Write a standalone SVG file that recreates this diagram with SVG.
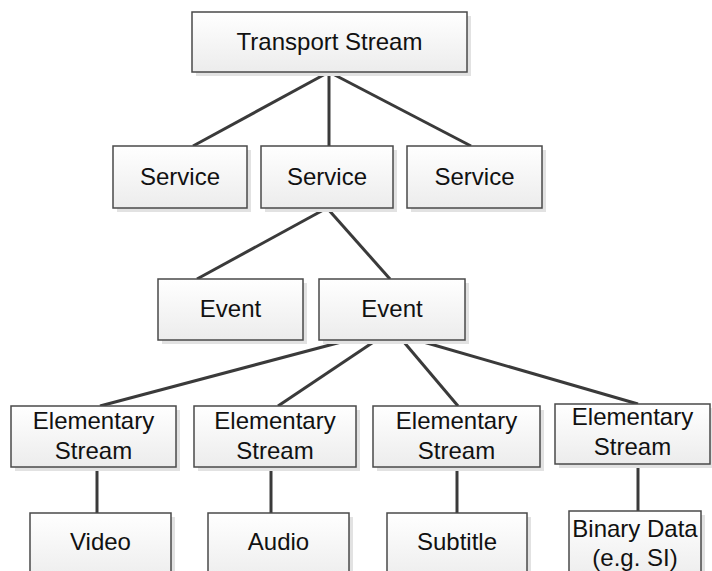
<svg xmlns="http://www.w3.org/2000/svg" width="712" height="571" viewBox="0 0 712 571">
<defs>
<linearGradient id="g" x1="0" y1="0" x2="0" y2="1">
<stop offset="0" stop-color="#ffffff"/>
<stop offset="1" stop-color="#ececec"/>
</linearGradient>
<style>
.sh{fill:#e2e2e2;stroke:none}
.bx{fill:url(#g);stroke:#4a4a4a;stroke-width:1.5}
.t{font-family:"Liberation Sans",Arial,sans-serif;font-size:24px;fill:#111;text-anchor:middle}
.c line{stroke:#3a3a3a;stroke-width:3;stroke-linecap:butt}
</style>
</defs>
<rect width="712" height="571" fill="#fff"/>
<g class="c" id="connectors">
<line x1="329" y1="72" x2="193" y2="146"/>
<line x1="329" y1="72" x2="329" y2="146"/>
<line x1="329" y1="72" x2="471" y2="146"/>
<line x1="327" y1="208" x2="197" y2="279"/>
<line x1="327" y1="208" x2="390" y2="279"/>
<line x1="345" y1="341" x2="100" y2="406"/>
<line x1="375" y1="341" x2="278" y2="406"/>
<line x1="403" y1="341" x2="458" y2="406"/>
<line x1="420" y1="341" x2="638" y2="404"/>
<line x1="97" y1="467" x2="97" y2="513"/>
<line x1="271" y1="467" x2="271" y2="513"/>
<line x1="457" y1="467" x2="457" y2="513"/>
<line x1="638" y1="464" x2="638" y2="511"/>
</g>
<g id="ts"><rect class="sh" x="196" y="16" width="275" height="60"/><rect class="bx" x="192" y="12" width="275" height="60"/><text class="t" x="329.5" y="50">Transport Stream</text></g>
<g id="s1"><rect class="sh" x="117" y="150" width="134" height="62"/><rect class="bx" x="113" y="146" width="134" height="62"/><text class="t" x="180" y="185">Service</text></g>
<g id="s2"><rect class="sh" x="265" y="150" width="132" height="62"/><rect class="bx" x="261" y="146" width="132" height="62"/><text class="t" x="327" y="185">Service</text></g>
<g id="s3"><rect class="sh" x="411" y="150" width="135" height="62"/><rect class="bx" x="407" y="146" width="135" height="62"/><text class="t" x="474.5" y="185">Service</text></g>
<g id="e1"><rect class="sh" x="162" y="283" width="145" height="61"/><rect class="bx" x="158" y="279" width="145" height="61"/><text class="t" x="230.5" y="317">Event</text></g>
<g id="e2"><rect class="sh" x="323" y="283" width="146" height="61"/><rect class="bx" x="319" y="279" width="146" height="61"/><text class="t" x="392" y="317">Event</text></g>
<g id="es1"><rect class="sh" x="15" y="410" width="165" height="61"/><rect class="bx" x="11" y="406" width="165" height="61"/><text class="t" x="93.5" y="429">Elementary</text><text class="t" x="93.5" y="459">Stream</text></g>
<g id="es2"><rect class="sh" x="198" y="410" width="162" height="61"/><rect class="bx" x="194" y="406" width="162" height="61"/><text class="t" x="275" y="429">Elementary</text><text class="t" x="275" y="459">Stream</text></g>
<g id="es3"><rect class="sh" x="377" y="410" width="167" height="61"/><rect class="bx" x="373" y="406" width="167" height="61"/><text class="t" x="456.5" y="429">Elementary</text><text class="t" x="456.5" y="459">Stream</text></g>
<g id="es4"><rect class="sh" x="559" y="408" width="155" height="60"/><rect class="bx" x="555" y="404" width="155" height="60"/><text class="t" x="632.5" y="425">Elementary</text><text class="t" x="632.5" y="455">Stream</text></g>
<g id="video"><rect class="sh" x="34" y="517" width="141" height="70"/><rect class="bx" x="30" y="513" width="141" height="70"/><text class="t" x="100.5" y="550">Video</text></g>
<g id="audio"><rect class="sh" x="212" y="517" width="141" height="70"/><rect class="bx" x="208" y="513" width="141" height="70"/><text class="t" x="278.5" y="550">Audio</text></g>
<g id="subtitle"><rect class="sh" x="391" y="517" width="140" height="70"/><rect class="bx" x="387" y="513" width="140" height="70"/><text class="t" x="457" y="550">Subtitle</text></g>
<g id="binary"><rect class="sh" x="573" y="515" width="132" height="70"/><rect class="bx" x="569" y="511" width="132" height="70"/><text class="t" x="635" y="537">Binary Data</text><text class="t" x="635" y="566">(e.g. SI)</text></g>
</svg>
